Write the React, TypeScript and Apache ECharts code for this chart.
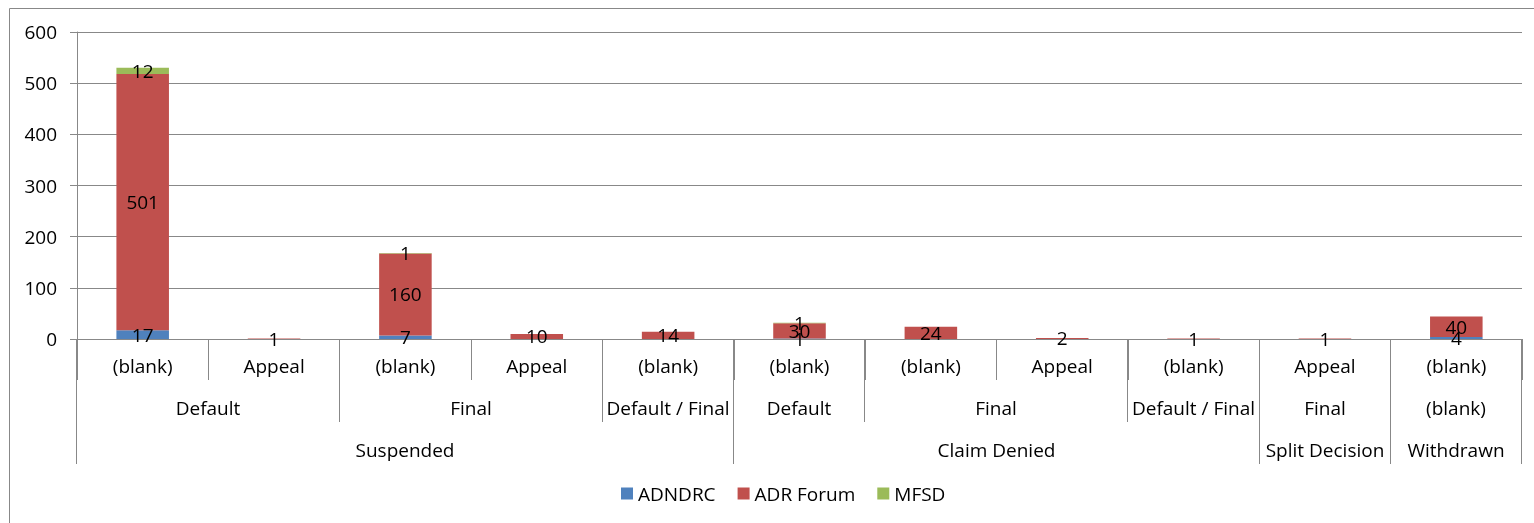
import React, { useEffect, useRef } from "react";
import * as echarts from "echarts";

const categories = ["(blank)", "Appeal", "(blank)", "Appeal", "(blank)", "(blank)", "(blank)", "Appeal", "(blank)", "Appeal", "(blank)"];
const adndrc = [17, null, 7, null, null, 1, null, null, null, null, 4];
const adrForum = [501, 1, 160, 10, 14, 30, 24, 2, 1, 1, 40];
const mfsd = [12, null, 1, null, null, 1, null, null, null, null, null];

const level2Groups = [
  { name: "Default", start: 0, end: 1 },
  { name: "Final", start: 2, end: 3 },
  { name: "Default / Final", start: 4, end: 4 },
  { name: "Default", start: 5, end: 5 },
  { name: "Final", start: 6, end: 7 },
  { name: "Default / Final", start: 8, end: 8 },
  { name: "Final", start: 9, end: 9 },
  { name: "(blank)", start: 10, end: 10 },
];
const level3Groups = [
  { name: "Suspended", start: 0, end: 4 },
  { name: "Claim Denied", start: 5, end: 8 },
  { name: "Split Decision", start: 9, end: 9 },
  { name: "Withdrawn", start: 10, end: 10 },
];
const yTicks = { min: 0, max: 600, interval: 100 };

const FONT = "Open Sans";
const FS = 19;
const GRAY = "#888888";

function crisp(x: number) {
  const d = Math.round(x * 2);
  return (d + 1) % 2 === 0 ? d / 2 : (d - 1) / 2;
}

export default function App() {
  const ref = useRef<HTMLDivElement>(null);
  useEffect(() => {
    if (!ref.current) return;
    const chart = echarts.init(ref.current, null, { renderer: "svg" });
    const groups = [
      ...level2Groups.map((g) => ({ ...g, level: 2 })),
      ...level3Groups.map((g) => ({ ...g, level: 3 })),
    ];
    const labelStyle = { show: true, position: "inside", color: "#000", fontSize: FS, fontFamily: FONT };
    chart.setOption({
      animation: false,
      textStyle: { fontFamily: FONT },
      graphic: [
        {
          type: "rect",
          shape: { x: 9.5, y: 8.5, width: 1560, height: 560 },
          style: { fill: "none", stroke: GRAY, lineWidth: 1 },
          silent: true,
          z: -10,
        },
      ],
      grid: { left: 77, right: 12, top: 32, bottom: 184, containLabel: false },
      legend: {
        data: ["ADNDRC", "ADR Forum", "MFSD"],
        left: 616,
        top: 479,
        icon: "rect",
        itemWidth: 12,
        itemHeight: 12,
        itemGap: 22,
        textStyle: { fontSize: FS, fontFamily: FONT, color: "#000" },
      },
      xAxis: {
        type: "category",
        data: categories,
        axisLine: { show: true, lineStyle: { color: GRAY, width: 1 } },
        axisTick: { show: true, alignWithLabel: false, interval: 0, length: 41, lineStyle: { color: GRAY } },
        axisLabel: { interval: 0, margin: 17, color: "#000", fontSize: FS, fontFamily: FONT },
      },
      yAxis: {
        type: "value",
        min: yTicks.min,
        max: yTicks.max,
        interval: yTicks.interval,
        axisLine: { show: true, lineStyle: { color: GRAY } },
        axisTick: { show: true, length: 7, lineStyle: { color: GRAY } },
        axisLabel: { margin: 20, color: "#000", fontSize: FS, fontFamily: FONT },
        splitLine: { show: true, lineStyle: { color: GRAY, width: 1 } },
      },
      series: [
        { name: "ADNDRC", type: "bar", stack: "a", barWidth: "40%", data: adndrc, itemStyle: { color: "#4F81BD" }, label: labelStyle },
        { name: "ADR Forum", type: "bar", stack: "a", barWidth: "40%", data: adrForum, itemStyle: { color: "#C0504D" }, label: labelStyle },
        { name: "MFSD", type: "bar", stack: "a", barWidth: "40%", data: mfsd, itemStyle: { color: "#9BBB59" }, label: labelStyle },
        {
          name: "axisGroups",
          type: "custom",
          silent: true,
          clip: false,
          z: 10,
          encode: { x: 0, y: 2 },
          data: groups.map((g) => [g.start, g.end, 0]),
          renderItem: (params: any, api: any) => {
            const g = groups[params.dataIndex];
            const band = api.size([1, 0])[0];
            const p0 = api.coord([g.start, 0]);
            const p1 = api.coord([g.end, 0]);
            const left = crisp(p0[0] - band / 2);
            const right = crisp(p1[0] + band / 2);
            const y0 = p0[1];
            const depth = g.level === 2 ? 83 : 125;
            const ty = g.level === 2 ? 69 : 111;
            return {
              type: "group",
              children: [
                { type: "line", shape: { x1: left, y1: y0, x2: left, y2: y0 + depth }, style: { stroke: GRAY, lineWidth: 1 } },
                { type: "line", shape: { x1: right, y1: y0, x2: right, y2: y0 + depth }, style: { stroke: GRAY, lineWidth: 1 } },
                {
                  type: "text",
                  x: (left + right) / 2,
                  y: y0 + ty,
                  style: { text: g.name, fill: "#000", fontSize: FS, fontFamily: FONT, align: "center", verticalAlign: "middle" },
                },
              ],
            };
          },
        },
      ],
    });
    return () => chart.dispose();
  }, []);
  return <div ref={ref} style={{ position: "fixed", left: 0, top: 0, width: 1534, height: 523 }} />;
}
